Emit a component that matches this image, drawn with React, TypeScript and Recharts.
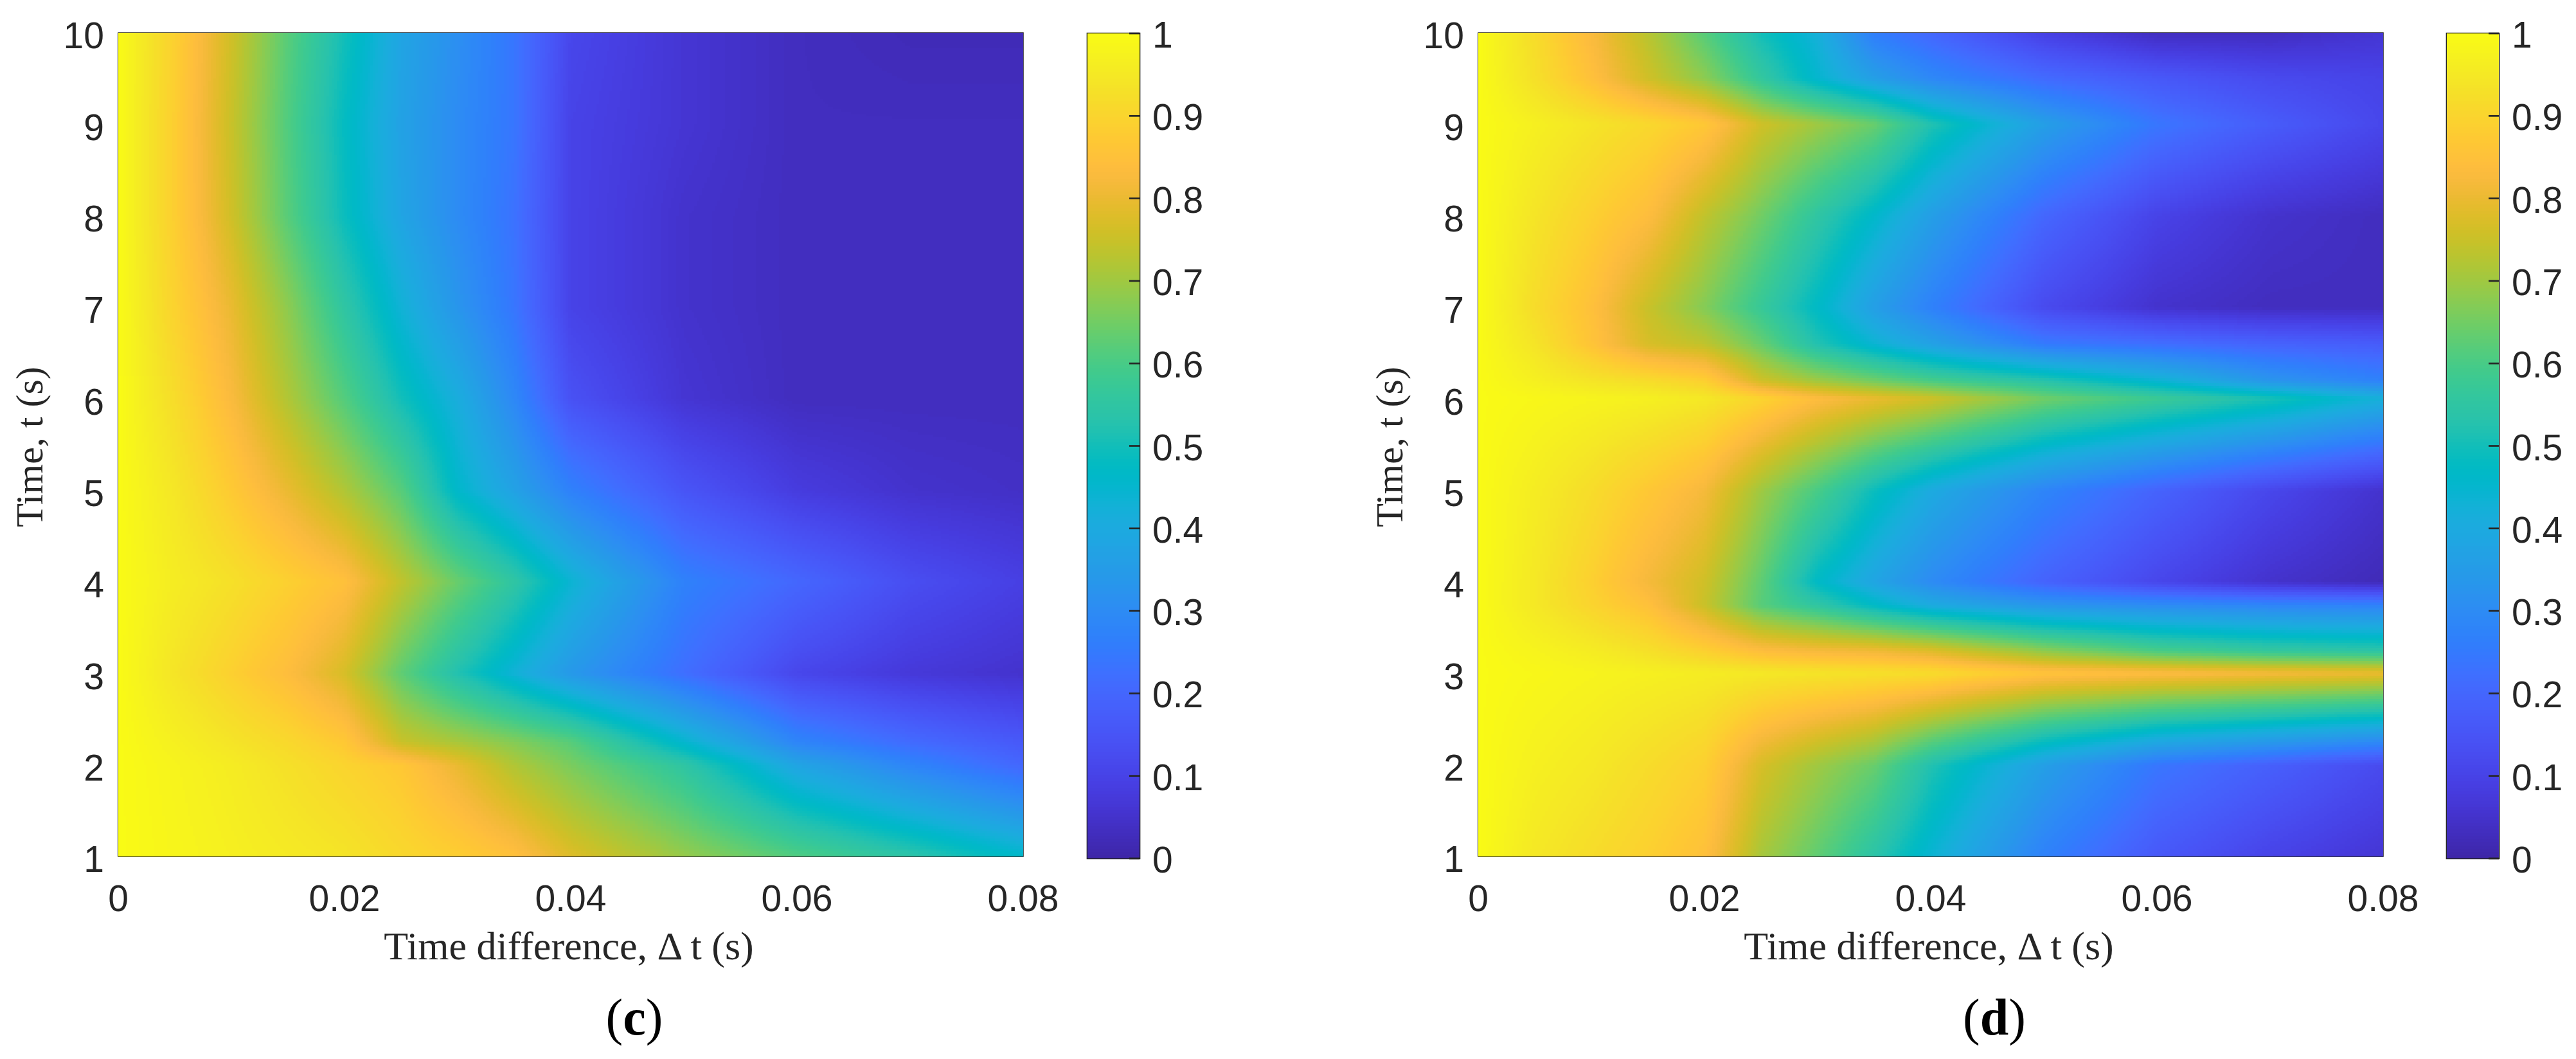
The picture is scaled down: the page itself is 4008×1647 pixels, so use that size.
import React from 'react';
import { ScatterChart, Scatter, XAxis, YAxis, ReferenceArea, Label } from 'recharts';

const timeDiffs = [0, 0.005, 0.01, 0.015, 0.02, 0.025, 0.03, 0.035, 0.04, 0.05, 0.06, 0.07, 0.08];

const rowsC = [1, 2, 2.25, 3, 4, 5, 6, 7, 8, 9, 10];
const valuesC = [
  [1, 0.985, 0.97, 0.955, 0.94, 0.91, 0.885, 0.85, 0.78, 0.69, 0.61, 0.54, 0.46],
  [1, 0.98, 0.96, 0.93, 0.9, 0.87, 0.8, 0.72, 0.66, 0.55, 0.38, 0.28, 0.2],
  [1, 0.97, 0.94, 0.91, 0.87, 0.75, 0.71, 0.67, 0.62, 0.45, 0.28, 0.21, 0.16],
  [1, 0.94, 0.89, 0.84, 0.77, 0.63, 0.52, 0.43, 0.34, 0.22, 0.11, 0.07, 0.05],
  [1, 0.96, 0.93, 0.89, 0.85, 0.74, 0.64, 0.55, 0.44, 0.27, 0.2, 0.13, 0.09],
  [1, 0.945, 0.875, 0.8, 0.72, 0.62, 0.46, 0.37, 0.27, 0.15, 0.08, 0.05, 0.04],
  [1, 0.92, 0.83, 0.72, 0.615, 0.5, 0.41, 0.29, 0.14, 0.06, 0.03, 0.03, 0.03],
  [1, 0.895, 0.8, 0.68, 0.55, 0.43, 0.33, 0.24, 0.1, 0.05, 0.03, 0.03, 0.03],
  [1, 0.885, 0.76, 0.62, 0.49, 0.38, 0.3, 0.23, 0.1, 0.05, 0.03, 0.03, 0.03],
  [1, 0.885, 0.75, 0.61, 0.48, 0.37, 0.3, 0.24, 0.1, 0.06, 0.03, 0.03, 0.03],
  [1, 0.89, 0.76, 0.62, 0.5, 0.38, 0.31, 0.24, 0.11, 0.06, 0.03, 0.02, 0.02],
];

const rowsD = [1, 2, 3, 3.25, 3.75, 4, 5, 6, 6.2, 6.6, 7, 8, 9, 9.5, 10];
const valuesD = [
  [1, 0.95, 0.92, 0.89, 0.85, 0.71, 0.63, 0.54, 0.44, 0.27, 0.16, 0.1, 0.06],
  [1, 0.97, 0.95, 0.92, 0.89, 0.77, 0.7, 0.64, 0.52, 0.36, 0.24, 0.18, 0.12],
  [1, 0.99, 0.98, 0.97, 0.96, 0.95, 0.94, 0.93, 0.92, 0.86, 0.84, 0.82, 0.8],
  [1, 0.98, 0.96, 0.93, 0.89, 0.84, 0.82, 0.81, 0.78, 0.68, 0.6, 0.56, 0.54],
  [1, 0.95, 0.9, 0.85, 0.75, 0.62, 0.55, 0.47, 0.4, 0.33, 0.3, 0.28, 0.27],
  [1, 0.95, 0.89, 0.82, 0.76, 0.63, 0.47, 0.38, 0.3, 0.19, 0.11, 0.05, 0.02],
  [1, 0.96, 0.92, 0.87, 0.82, 0.7, 0.6, 0.49, 0.4, 0.28, 0.19, 0.11, 0.05],
  [1, 0.99, 0.98, 0.97, 0.95, 0.9, 0.84, 0.8, 0.76, 0.65, 0.58, 0.51, 0.42],
  [1, 0.97, 0.94, 0.92, 0.89, 0.76, 0.7, 0.65, 0.6, 0.53, 0.44, 0.33, 0.27],
  [1, 0.94, 0.86, 0.77, 0.74, 0.64, 0.52, 0.44, 0.37, 0.25, 0.22, 0.19, 0.17],
  [1, 0.92, 0.85, 0.75, 0.67, 0.57, 0.47, 0.36, 0.27, 0.12, 0.05, 0.03, 0.03],
  [1, 0.94, 0.89, 0.84, 0.74, 0.65, 0.55, 0.46, 0.36, 0.2, 0.1, 0.05, 0.03],
  [1, 0.97, 0.94, 0.91, 0.87, 0.76, 0.7, 0.64, 0.52, 0.36, 0.24, 0.17, 0.11],
  [1, 0.93, 0.85, 0.76, 0.68, 0.56, 0.45, 0.36, 0.29, 0.21, 0.16, 0.12, 0.1],
  [1, 0.92, 0.83, 0.73, 0.62, 0.5, 0.42, 0.26, 0.2, 0.09, 0.03, 0.03, 0.06],
];

const xTicks = [0, 0.02, 0.04, 0.06, 0.08];
const yTicks = [1, 2, 3, 4, 5, 6, 7, 8, 9, 10];
const barTicks = [0, 0.1, 0.2, 0.3, 0.4, 0.5, 0.6, 0.7, 0.8, 0.9, 1];

const parula = [
  [0.2422, 0.1504, 0.6603], [0.2504, 0.165, 0.7076], [0.2578, 0.1818, 0.7511], [0.2647, 0.1978, 0.7952],
  [0.2706, 0.2147, 0.8364], [0.2751, 0.2342, 0.871], [0.2783, 0.2559, 0.8991], [0.2803, 0.2782, 0.9221],
  [0.2813, 0.3006, 0.9414], [0.281, 0.3228, 0.9579], [0.2795, 0.3447, 0.9717], [0.276, 0.3667, 0.9829],
  [0.2699, 0.3892, 0.9906], [0.2602, 0.4123, 0.9952], [0.244, 0.4358, 0.9988], [0.2206, 0.4603, 0.9973],
  [0.1963, 0.4847, 0.9892], [0.1834, 0.5074, 0.9798], [0.1786, 0.5289, 0.9682], [0.1764, 0.5499, 0.952],
  [0.1687, 0.5703, 0.9359], [0.154, 0.5902, 0.9218], [0.146, 0.6091, 0.9079], [0.138, 0.6276, 0.8973],
  [0.1248, 0.6459, 0.8883], [0.1113, 0.6635, 0.8763], [0.0952, 0.6798, 0.8598], [0.0689, 0.6948, 0.8394],
  [0.0297, 0.7082, 0.8163], [0.0036, 0.7203, 0.7917], [0.0067, 0.7312, 0.766], [0.0433, 0.7411, 0.7394],
  [0.0964, 0.75, 0.712], [0.1408, 0.7584, 0.6842], [0.1717, 0.767, 0.6554], [0.1938, 0.7758, 0.6251],
  [0.2161, 0.7843, 0.5923], [0.247, 0.7918, 0.5567], [0.2906, 0.7973, 0.5188], [0.3406, 0.8008, 0.4789],
  [0.3909, 0.8029, 0.4354], [0.4456, 0.8024, 0.3909], [0.5044, 0.7993, 0.348], [0.5616, 0.7942, 0.3045],
  [0.6174, 0.7876, 0.2612], [0.672, 0.7793, 0.2227], [0.7242, 0.7698, 0.191], [0.7738, 0.7598, 0.1646],
  [0.8203, 0.7498, 0.1535], [0.8634, 0.7406, 0.1596], [0.9035, 0.733, 0.1774], [0.9393, 0.7288, 0.21],
  [0.9728, 0.7298, 0.2394], [0.9956, 0.7434, 0.2371], [0.997, 0.7659, 0.2199], [0.9952, 0.7861, 0.1991],
  [0.9892, 0.8137, 0.1885], [0.9786, 0.8386, 0.1766], [0.9676, 0.8639, 0.1643], [0.961, 0.889, 0.1537],
  [0.9597, 0.9135, 0.1423], [0.9628, 0.9373, 0.1265], [0.9691, 0.9606, 0.1064], [0.9769, 0.9839, 0.0805],
];

const LEVELS = 256;
const levelColors: string[] = [];
for (let i = 0; i < LEVELS; i++) {
  const p = (i / (LEVELS - 1)) * (parula.length - 1);
  const a = Math.min(Math.floor(p), parula.length - 2);
  const f = p - a;
  const c = [0, 1, 2].map((k) => Math.round(255 * (parula[a][k] * (1 - f) + parula[a + 1][k] * f)));
  levelColors.push(`rgb(${c[0]},${c[1]},${c[2]})`);
}
const levelOf = (v: number) => Math.max(0, Math.min(LEVELS - 1, Math.round(v * (LEVELS - 1))));

const INK = '#262626';
const PAGE_H = 1647;
const PLOT_LEFT = 184;
const PLOT_W = 1408;
const PLOT_TOP = 51;
const PLOT_BOTTOM = 1332;
const PLOT_H = PLOT_BOTTOM - PLOT_TOP;
const CHART_W = 1700;
const X_MAX = 0.08;
const Y_MIN = 1;
const Y_MAX = 10;
const CELL = 4;

const sans = 'Liberation Sans';
const serif = 'Liberation Serif';

function buildPatches(rows: number[], values: number[][]) {
  const out: any[] = [];
  for (let r = 0; r < rows.length - 1; r++) {
    for (let c = 0; c < timeDiffs.length - 1; c++) {
      out.push({
        x: timeDiffs[c],
        y: rows[r],
        x1: timeDiffs[c + 1],
        y1: rows[r + 1],
        a: values[r][c],
        b: values[r][c + 1],
        d: values[r + 1][c],
        e: values[r + 1][c + 1],
      });
    }
  }
  return out;
}

// Gouraud-style shading of one mesh patch, anchored on the scale-mapped node (cx, cy).
function PatchShape(props: any) {
  const { cx, cy, payload: p } = props;
  if (cx == null || cy == null || !p) return null;
  const w = ((p.x1 - p.x) / X_MAX) * PLOT_W;
  const h = ((p.y1 - p.y) / (Y_MAX - Y_MIN)) * PLOT_H;
  const nx = Math.max(1, Math.round(w / CELL));
  const ny = Math.max(1, Math.round(h / CELL));
  const groups = new Map<number, string>();
  for (let j = 0; j < ny; j++) {
    const y0 = Math.round(cy - ((j + 1) * h) / ny);
    const y1 = Math.round(cy - (j * h) / ny);
    const fy = (j + 0.5) / ny;
    for (let i = 0; i < nx; i++) {
      const x0 = Math.round(cx + (i * w) / nx);
      const x1 = Math.round(cx + ((i + 1) * w) / nx);
      const fx = (i + 0.5) / nx;
      const v = (p.a * (1 - fx) + p.b * fx) * (1 - fy) + (p.d * (1 - fx) + p.e * fx) * fy;
      const l = levelOf(v);
      groups.set(l, (groups.get(l) || '') + `M${x0} ${y0}H${x1}V${y1}H${x0}Z`);
    }
  }
  return (
    <g>
      {Array.from(groups.entries()).map(([l, d]) => (
        <path key={l} d={d} fill={levelColors[l]} shapeRendering="crispEdges" />
      ))}
    </g>
  );
}

function Panel({ left, rows, values, mark }: { left: number; rows: number[]; values: number[][]; mark: string }) {
  const data = buildPatches(rows, values);
  return (
    <div style={{ position: 'absolute', left, top: 0 }}>
      <ScatterChart
        width={CHART_W}
        height={PAGE_H}
        margin={{ left: 0, top: PLOT_TOP, right: CHART_W - PLOT_LEFT - PLOT_W, bottom: 0 }}
      >
        <XAxis
          type="number"
          dataKey="x"
          domain={[0, X_MAX]}
          ticks={xTicks}
          interval={0}
          height={PAGE_H - PLOT_BOTTOM}
          tickLine={false}
          tickSize={0}
          tickMargin={45}
          tickFormatter={(v: number) => String(v)}
          tick={{ fontSize: 57, fill: INK, fontFamily: sans }}
          axisLine={{ stroke: INK, strokeWidth: 1.5 }}
        >
          <Label
            content={() => (
              <text x={885} y={1492} textAnchor="middle" fontSize={62} fontFamily={serif} fill={INK}>
                Time difference, Δ t (s)
              </text>
            )}
          />
          <Label
            content={() => (
              <text x={987} y={1609} textAnchor="middle" fontSize={80} fontFamily={serif} fill="#000">
                (<tspan fontWeight="bold">{mark}</tspan>)
              </text>
            )}
          />
        </XAxis>
        <YAxis
          type="number"
          dataKey="y"
          domain={[Y_MIN, Y_MAX]}
          ticks={yTicks}
          interval={0}
          width={PLOT_LEFT}
          tickLine={false}
          tickSize={0}
          tickMargin={22}
          tick={{ fontSize: 57, fill: INK, fontFamily: sans, dy: 4 }}
          axisLine={{ stroke: INK, strokeWidth: 1.5 }}
        >
          <Label
            content={() => (
              <text
                x={66}
                y={695}
                transform="rotate(-90 66 695)"
                textAnchor="middle"
                fontSize={60}
                fontFamily={serif}
                fill={INK}
              >
                Time, t (s)
              </text>
            )}
          />
        </YAxis>
        <Scatter data={data} isAnimationActive={false} shape={PatchShape} />
        <ReferenceArea x1={0} x2={X_MAX} y1={Y_MIN} y2={Y_MAX} fill="none" stroke={INK} strokeWidth={1.5} />
      </ScatterChart>
    </div>
  );
}

const BAR_PLOT_LEFT = 92;
const BAR_W = 81;
const BAR_TOP = 52;
const BAR_BOTTOM = 1335;
const BAR_CHART_W = 400;
const barLevels = Array.from({ length: LEVELS }, (_, i) => ({ x: 0, y: (i + 0.5) / LEVELS, v: i }));

function BarCell(props: any) {
  const { cx, cy, payload } = props;
  if (cx == null || cy == null) return null;
  const h = (BAR_BOTTOM - BAR_TOP) / LEVELS;
  const y0 = Math.round(cy - h / 2);
  const y1 = Math.round(cy + h / 2);
  return <rect x={cx} y={y0} width={BAR_W} height={Math.max(1, y1 - y0)} fill={levelColors[payload.v]} shapeRendering="crispEdges" />;
}

function BarTick(props: any) {
  const { x, y, payload } = props;
  return (
    <g>
      <line x1={x - 16} x2={x} y1={y} y2={y} stroke={INK} strokeWidth={2.7} />
      <text x={x + 20} y={y + 22} fontSize={57} fontFamily={sans} fill={INK}>
        {String(payload.value)}
      </text>
    </g>
  );
}

function ColorBar({ left }: { left: number }) {
  return (
    <div style={{ position: 'absolute', left, top: 0 }}>
      <ScatterChart
        width={BAR_CHART_W}
        height={PAGE_H}
        margin={{ left: BAR_PLOT_LEFT, top: BAR_TOP, right: BAR_CHART_W - BAR_PLOT_LEFT - BAR_W - 120, bottom: PAGE_H - BAR_BOTTOM }}
      >
        <XAxis type="number" dataKey="x" domain={[0, 1]} hide />
        <YAxis
          type="number"
          dataKey="y"
          orientation="right"
          domain={[0, 1]}
          ticks={barTicks}
          interval={0}
          width={120}
          tickLine={false}
          tickSize={0}
          tickMargin={0}
          axisLine={false}
          tick={BarTick}
        />
        <Scatter data={barLevels} isAnimationActive={false} shape={BarCell} />
        <ReferenceArea x1={0} x2={1} y1={0} y2={1} fill="none" stroke={INK} strokeWidth={2.7} />
      </ScatterChart>
    </div>
  );
}

export default function App() {
  return (
    <div style={{ position: 'absolute', left: 0, top: 0, width: 4008, height: PAGE_H, background: '#fff', overflow: 'hidden' }}>
      <Panel left={0} rows={rowsC} values={valuesC} mark="c" />
      <ColorBar left={1600} />
      <Panel left={2115.5} rows={rowsD} values={valuesD} mark="d" />
      <ColorBar left={3715} />
    </div>
  );
}
